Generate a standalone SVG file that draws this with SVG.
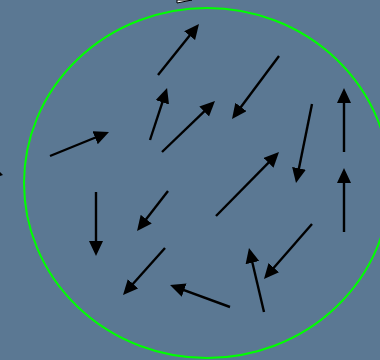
<svg xmlns="http://www.w3.org/2000/svg" width="380" height="360" viewBox="0 0 380 360">
<defs>
<style>
.a{stroke:#000;stroke-width:2.4;fill:none;marker-end:url(#h)}
</style>
<marker id="h" markerUnits="userSpaceOnUse" markerWidth="16" markerHeight="15" refX="11" refY="7" orient="auto" viewBox="0 0 16 15">
<path d="M0,0 L15,7 L0,14 z" fill="#000"/>
</marker>
</defs>
<rect width="380" height="360" fill="#5b7893"/>
<ellipse id="boundary" cx="207" cy="183" rx="183" ry="175" fill="none" stroke="#00ff00" stroke-width="2"/>
<polygon points="177,3 192,0 177,0" fill="#fff" stroke="#000" stroke-width="1"/>
<polygon points="0,172 3,175 0,176" fill="#000"/>
<g id="connectors">
<line class="a" x1="158" y1="75" x2="196.5" y2="27.1"/>
<line class="a" x1="279" y1="56" x2="234.4" y2="115.8"/>
<line class="a" x1="150" y1="140" x2="165.8" y2="91.8"/>
<line class="a" x1="162" y1="152" x2="212.1" y2="103.8"/>
<line class="a" x1="50" y1="156" x2="105.3" y2="133.5"/>
<line class="a" x1="312" y1="104" x2="296.8" y2="179.1"/>
<line class="a" x1="344" y1="152" x2="344" y2="92"/>
<line class="a" x1="344" y1="232" x2="344" y2="172"/>
<line class="a" x1="96" y1="192" x2="96" y2="252"/>
<line class="a" x1="168" y1="191" x2="139.5" y2="227.8"/>
<line class="a" x1="216" y1="216" x2="276.2" y2="154.9"/>
<line class="a" x1="165" y1="248" x2="125.7" y2="292"/>
<line class="a" x1="230" y1="307" x2="173.8" y2="286.4"/>
<line class="a" x1="264" y1="312" x2="249.9" y2="251.9"/>
<line class="a" x1="312" y1="224" x2="266.6" y2="276"/>
</g>
</svg>
